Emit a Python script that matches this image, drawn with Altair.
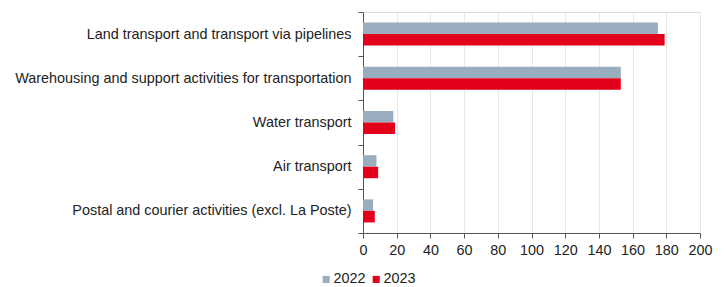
import altair as alt
import pandas as pd

categories = [
    "Land transport and transport via pipelines",
    "Warehousing and support activities for transportation",
    "Water transport",
    "Air transport",
    "Postal and courier activities (excl. La Poste)",
]
years = ["2022", "2023"]
values_2022 = [175, 153, 18, 8, 6]
values_2023 = [179, 153, 19, 9, 7]
x_ticks = [0, 20, 40, 60, 80, 100, 120, 140, 160, 180, 200]

rows = []
for c, v1, v2 in zip(categories, values_2022, values_2023):
    rows.append({"category": c, "year": "2022", "value": v1})
    rows.append({"category": c, "year": "2023", "value": v2})
df = pd.DataFrame(rows)

FONT = "Liberation Sans"
TXT = "#222222"
FS = 14.4

chart = alt.Chart(df).mark_bar().encode(
    x=alt.X("value:Q",
            scale=alt.Scale(domain=[0, 200], nice=False),
            axis=alt.Axis(values=x_ticks, title=None, grid=True, gridColor="#e8e8e8",
                          domainColor="#555555", tickColor="#555555", tickSize=5,
                          labelFontSize=FS, labelColor=TXT, labelFont=FONT,
                          labelPadding=5, labelFlush=False)),
    y=alt.Y("category:N", sort=categories,
            scale=alt.Scale(paddingInner=0, paddingOuter=0),
            axis=alt.Axis(title=None, tickBand="extent", domainColor="#555555",
                          tickColor="#555555", tickSize=5, labelFontSize=FS,
                          labelColor=TXT, labelFont=FONT, labelPadding=7,
                          labelLimit=400)),
    yOffset=alt.YOffset("year:N", sort=years,
                        scale=alt.Scale(paddingInner=0, paddingOuter=0.92)),
    color=alt.Color("year:N", sort=years,
                    scale=alt.Scale(domain=years, range=["#9aadbf", "#e2001a"]),
                    legend=alt.Legend(title=None, orient="none", direction="horizontal",
                                      legendX=-44, legendY=260, symbolType="square",
                                      symbolSize=50, symbolStrokeWidth=0,
                                      labelFontSize=FS, labelColor=TXT, labelFont=FONT,
                                      labelOffset=0, columnPadding=3)),
).properties(
    width=337, height=221,
    autosize=alt.AutoSizeParams(type="none"),
    padding={"left": 355, "top": 4, "right": 15, "bottom": 54},
).configure_view(stroke=None).configure(background="white")

chart.save("out.html", embed_options={"renderer": "svg", "actions": False})
